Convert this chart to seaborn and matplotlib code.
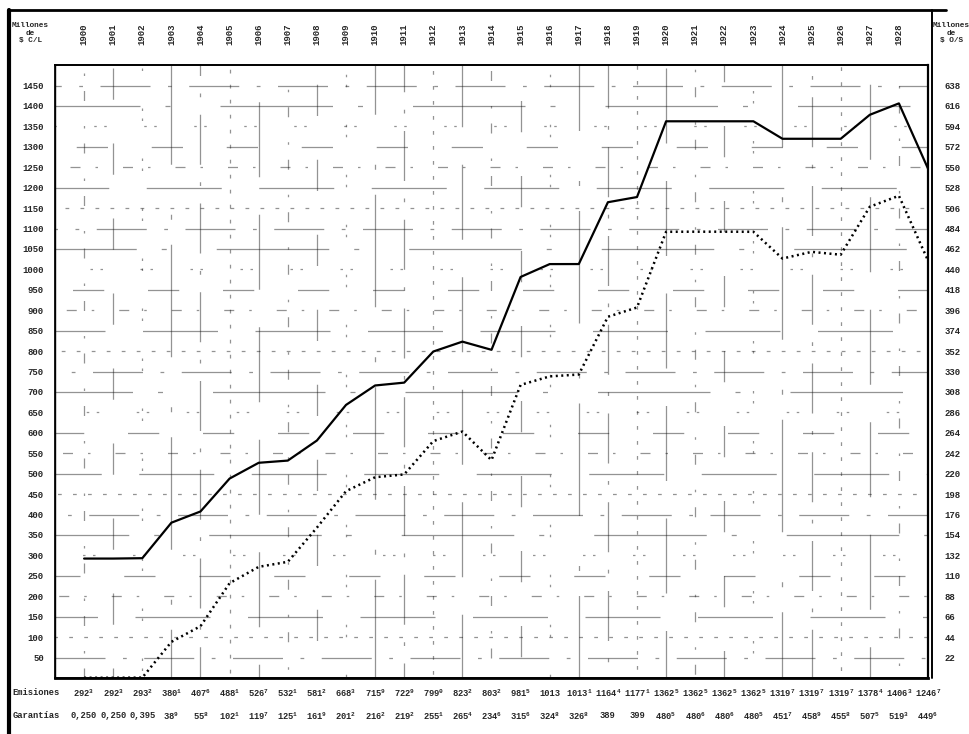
import numpy as np
import pandas as pd
import matplotlib
matplotlib.use('Agg')
import matplotlib.pyplot as plt
from matplotlib.lines import Line2D
from matplotlib import transforms
import seaborn as sns

# ------------------------------------------------------------
# datos (millones de $)
# ------------------------------------------------------------
years = [1900, 1901, 1902, 1903, 1904, 1905, 1906, 1907, 1908, 1909,
         1910, 1911, 1912, 1913, 1914, 1915, 1916, 1917, 1918, 1919,
         1920, 1921, 1922, 1923, 1924, 1925, 1926, 1927, 1928]
emisiones = ["292.3", "292.3", "293.2", "380.1", "407.6", "488.1", "526.7", "532.1", "581.2", "668.3",
             "715.9", "722.9", "799.0", "823.2", "803.2", "981.5", "1013", "1013.1", "1164.4", "1177.1",
             "1362.5", "1362.5", "1362.5", "1362.5", "1319.7", "1319.7", "1319.7", "1378.4", "1406.3", "1246.7"]
garantias = ["0.250", "0.250", "0.395", "38.9", "55.8", "102.1", "119.7", "125.1", "161.9", "201.2",
             "216.2", "219.2", "255.1", "265.4", "234.6", "315.6", "324.8", "326.8", "389", "399",
             "480.5", "480.6", "480.6", "480.5", "451.7", "458.9", "455.8", "507.5", "519.3", "449.6"]
ticks_cl = [50, 100, 150, 200, 250, 300, 350, 400, 450, 500, 550, 600, 650, 700, 750,
            800, 850, 900, 950, 1000, 1050, 1100, 1150, 1200, 1250, 1300, 1350, 1400, 1450]
ticks_os = [22, 44, 66, 88, 110, 132, 154, 176, 198, 220, 242, 264, 286, 308, 330,
            352, 374, 396, 418, 440, 462, 484, 506, 528, 550, 572, 594, 616, 638]

df = pd.DataFrame({
    'pos': np.arange(len(emisiones)),
    'emis': [float(s) for s in emisiones],
    'gar': [float(s) for s in garantias],
})

sns.set_theme(style='white')
plt.rcParams['font.family'] = ['Liberation Mono', 'DejaVu Sans Mono']
plt.rcParams['font.weight'] = 'bold'
plt.rcParams['mathtext.fontset'] = 'custom'
plt.rcParams['mathtext.rm'] = 'Liberation Mono:bold'

def fmt(s):
    if s.startswith('0.'):
        return s.replace('.', ',')
    if '.' in s:
        a, b = s.split('.')
        return a + r'$^{\mathregular{' + b + '}}$'
    return s

fig = plt.figure(figsize=(9.7, 7.34), dpi=100)
ax = fig.add_axes([0.0567, 0.0763, 0.9, 0.835])
ax2 = ax.twinx()

# fondo de cuadricula quebrada (como en el original impreso)
patterns = [(40, 14, 3, 14), (3, 9), (60, 30), (8, 12, 2, 20),
            (25, 35), (2, 6, 2, 30), (90, 20, 4, 40)]
for i, y in enumerate(ticks_cl):
    ax.axhline(y, color='#111111', lw=0.9, alpha=0.45,
               linestyle=(i * 13 % 47, patterns[i % len(patterns)]))
for i in range(len(years)):
    ax.axvline(i, color='#111111', lw=0.9, alpha=0.45,
               linestyle=(i * 17 % 53, patterns[(i + 3) % len(patterns)]))

sns.lineplot(data=df, x='pos', y='emis', ax=ax, color='black', lw=1.6)
sns.lineplot(data=df, x='pos', y='gar', ax=ax2, color='black', lw=1.8,
             linestyle=(0, (0.8, 1.4)))

ax.set_xlim(-1, 29)
ax.set_ylim(0, 1500)
ax2.set_ylim(0, 660)
ax.set_xticks([])
ax.set_yticks(ticks_cl)
ax.set_yticklabels([str(t) for t in ticks_cl], fontsize=6.5)
ax2.set_yticks(ticks_os)
ax2.set_yticklabels([str(t) for t in ticks_os], fontsize=6.5)
ax.tick_params(axis='y', length=0, pad=8)
ax2.tick_params(axis='y', length=0, pad=12)
for a in (ax, ax2):
    a.set_xlabel(''); a.set_ylabel('')
    for sp in a.spines.values():
        sp.set_color('black')
ax.spines['left'].set_linewidth(1.0)
ax.spines['bottom'].set_linewidth(2.0)
ax2.spines['right'].set_linewidth(1.6)
ax.spines['top'].set_linewidth(1.2)

# anos en la cabecera
trans = transforms.blended_transform_factory(ax.transData, ax.transAxes)
for i, yr in enumerate(years):
    ax.text(i, 1.05, str(yr), rotation=90, ha='center', va='center',
            fontsize=6.5, transform=trans)

# filas inferiores
for i in range(len(emisiones)):
    ax.text(i, -0.025, fmt(emisiones[i]), ha='center', va='center', fontsize=6.3, transform=trans)
    ax.text(i, -0.062, fmt(garantias[i]), ha='center', va='center', fontsize=6.3, transform=trans)
fig.text(0.013, 0.056, 'Emisiones', ha='left', va='center', fontsize=6.3)
fig.text(0.013, 0.025, 'Garantías', ha='left', va='center', fontsize=6.3)

fig.text(0.031, 0.955, 'Millones\nde\n$ C/L', ha='center', va='center', fontsize=5.6,
         linespacing=1.1)
fig.text(0.981, 0.955, 'Millones\nde\n$ O/S', ha='center', va='center', fontsize=5.6,
         linespacing=1.1)

# marco
fig.add_artist(Line2D([0.008, 0.975], [0.986, 0.986], color='black', lw=2.0))
fig.add_artist(Line2D([0.009, 0.009], [0.0, 0.986], color='black', lw=3.0))
fig.add_artist(Line2D([0.9605, 0.9605], [0.0763, 0.986], color='black', lw=1.4))

fig.savefig('out.png', dpi=100)
